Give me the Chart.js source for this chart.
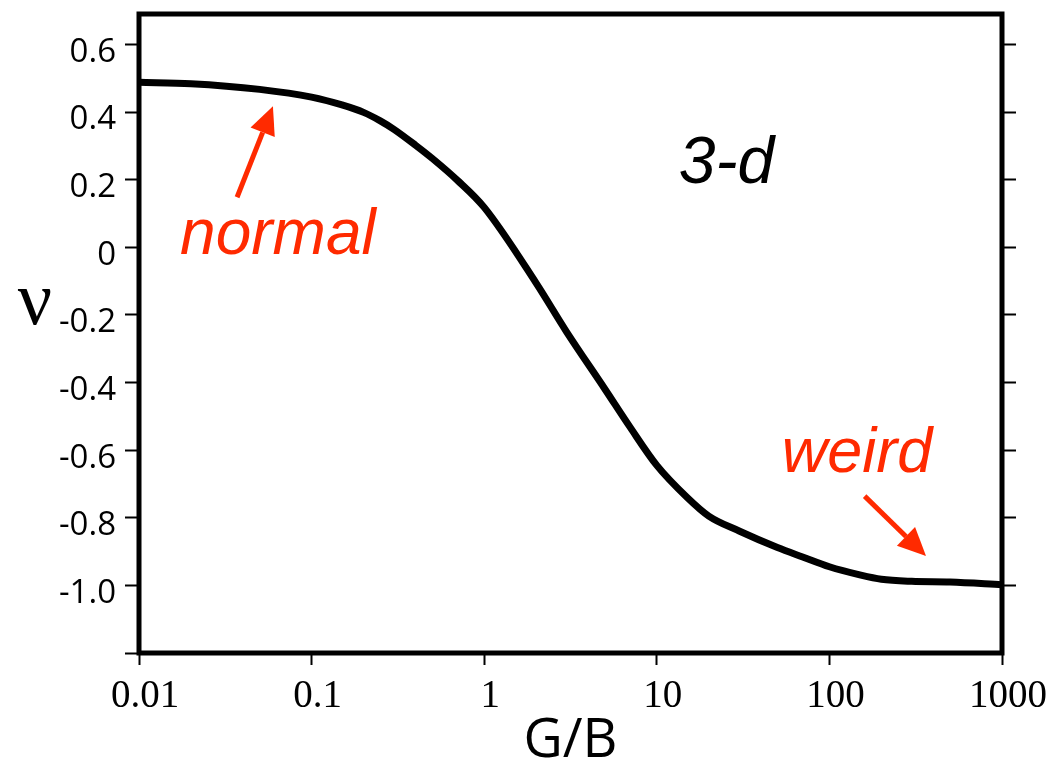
<!DOCTYPE html>
<html lang="en">
<head>
<meta charset="utf-8">
<title>Poisson ratio vs G/B (3-d)</title>
<script src="https://cdn.jsdelivr.net/npm/chart.js@4.4.1/dist/chart.umd.min.js"></script>
<style>
  html, body { margin: 0; padding: 0; background: #fff; }
  canvas { display: block; }
</style>
</head>
<body>
<canvas id="chart" width="1061" height="769"></canvas>
<script>
// ========== DATA ==========
const gOverB = [0.01, 0.02, 0.05, 0.1, 0.15, 0.2, 0.25, 0.3, 0.4, 0.5, 0.7, 1, 2, 3, 5, 7, 10, 15, 20, 30, 50, 70, 100, 150, 200, 300, 500, 1000];
const nu = [0.488, 0.484, 0.467, 0.444, 0.421, 0.399, 0.374, 0.349, 0.302, 0.263, 0.198, 0.118, -0.106, -0.25, -0.419, -0.532, -0.645, -0.74, -0.795, -0.839, -0.888, -0.916, -0.945, -0.969, -0.982, -0.988, -0.99, -0.998];

const xTicks = [0.01, 0.1, 1, 10, 100, 1000];
const xTickLabels = ["0.01", "0.1", "1", "10", "100", "1000"];
const yTicks = [-1.2, -1.0, -0.8, -0.6, -0.4, -0.2, 0, 0.2, 0.4, 0.6];
const yTickLabels = ["", "-1.0", "-0.8", "-0.6", "-0.4", "-0.2", "0", "0.2", "0.4", "0.6"];
const yRightTicks = yTicks.slice(1);

// ========== ANNOTATIONS (data coordinates) ==========
const RED = "#ff2a00";
const notes = [
  { text: "normal", x: 0.0173, y: -0.021, color: RED, size: 64 },
  { text: "weird", x: 53, y: -0.665, color: RED, size: 63 },
  { text: "3-d", x: 13.4, y: 0.189, color: "#000", size: 66 },
];
const arrows = [
  { from: [0.037, 0.148], to: [0.0597, 0.417] },
  { from: [160, -0.736], to: [363, -0.913] },
];

// ========== PLUGIN: frame, nu, notes ==========
const decorPlugin = {
  id: "decor",
  afterDraw(chart) {
    const { ctx, chartArea: a, scales } = chart;
    const px = (v) => scales.x.getPixelForValue(v);
    const py = (v) => scales.y.getPixelForValue(v);
    ctx.save();

    ctx.strokeStyle = "#000";
    ctx.lineWidth = 5;
    ctx.strokeRect(a.left, a.top, a.right - a.left, a.bottom - a.top);

    ctx.fillStyle = "#000";
    ctx.font = '76px "Liberation Serif"';
    ctx.textAlign = "center";
    ctx.textBaseline = "alphabetic";
    ctx.fillText("\u03BD", 35, py(-0.227));

    ctx.textAlign = "left";
    notes.forEach((n) => {
      ctx.font = `italic ${n.size}px "Liberation Sans"`;
      ctx.fillStyle = n.color;
      ctx.fillText(n.text, px(n.x), py(n.y));
    });

    ctx.strokeStyle = RED;
    ctx.fillStyle = RED;
    ctx.lineWidth = 5;
    arrows.forEach((ar) => {
      const x0 = px(ar.from[0]), y0 = py(ar.from[1]);
      const x1 = px(ar.to[0]), y1 = py(ar.to[1]);
      const ang = Math.atan2(y1 - y0, x1 - x0);
      const cos = Math.cos(ang), sin = Math.sin(ang);
      const bx = x1 - 28 * cos, by = y1 - 28 * sin;
      ctx.beginPath();
      ctx.moveTo(x0, y0);
      ctx.lineTo(bx, by);
      ctx.stroke();
      ctx.beginPath();
      ctx.moveTo(x1, y1);
      ctx.lineTo(bx + 13 * sin, by - 13 * cos);
      ctx.lineTo(bx - 13 * sin, by + 13 * cos);
      ctx.closePath();
      ctx.fill();
    });
    ctx.restore();
  },
};

// ========== CHART ==========
const tickGrid = (len) => ({
  drawOnChartArea: false,
  drawTicks: true,
  tickLength: len,
  tickWidth: 2,
  color: "#000",
});

// no extra room for half labels: the frame sits where the reference has it
const noPad = (s) => {
  s.paddingTop = 0;
  s.paddingBottom = 0;
  s.paddingLeft = 0;
  s.paddingRight = 0;
};

new Chart(document.getElementById("chart"), {
  type: "line",
  data: {
    datasets: [
      {
        data: gOverB.map((x, i) => ({ x, y: nu[i] })),
        borderColor: "#000",
        borderWidth: 7,
        pointRadius: 0,
        cubicInterpolationMode: "monotone",
        fill: false,
      },
    ],
  },
  options: {
    responsive: false,
    animation: false,
    layout: { padding: { top: 14, right: 0, bottom: 0, left: 0 } },
    plugins: { legend: { display: false }, tooltip: { enabled: false } },
    scales: {
      x: {
        type: "logarithmic",
        position: "bottom",
        min: 0.01,
        max: 1000,
        afterBuildTicks: (s) => { s.ticks = xTicks.map((v) => ({ value: v })); },
        afterFit: (s) => { s.height = 116; noPad(s); },
        grid: tickGrid(12),
        border: { display: false },
        ticks: {
          autoSkip: false,
          maxRotation: 0,
          padding: 8,
          labelOffset: 6,
          color: "#000",
          font: { family: '"Liberation Serif"', size: 39 },
          callback: (v, i) => xTickLabels[i],
        },
        title: {
          display: true,
          text: "G/B",
          color: "#000",
          padding: 0,
          font: { family: '"Open Sans"', size: 54, lineHeight: 1 },
        },
      },
      y: {
        type: "linear",
        position: "left",
        min: -1.2,
        max: 0.69,
        afterBuildTicks: (s) => { s.ticks = yTicks.map((v) => ({ value: v })); },
        afterFit: (s) => { s.width = 139; noPad(s); },
        grid: tickGrid(14),
        border: { display: false },
        ticks: {
          autoSkip: false,
          padding: 9,
          labelOffset: 8,
          color: "#000",
          font: { family: '"Open Sans"', size: 33 },
          callback: (v, i) => yTickLabels[i],
        },
      },
      y2: {
        type: "linear",
        position: "right",
        min: -1.2,
        max: 0.69,
        afterBuildTicks: (s) => { s.ticks = yRightTicks.map((v) => ({ value: v })); },
        afterFit: (s) => { s.width = 59; noPad(s); },
        grid: tickGrid(14),
        border: { display: false },
        ticks: { display: false },
      },
    },
  },
  plugins: [decorPlugin],
});
</script>
</body>
</html>
